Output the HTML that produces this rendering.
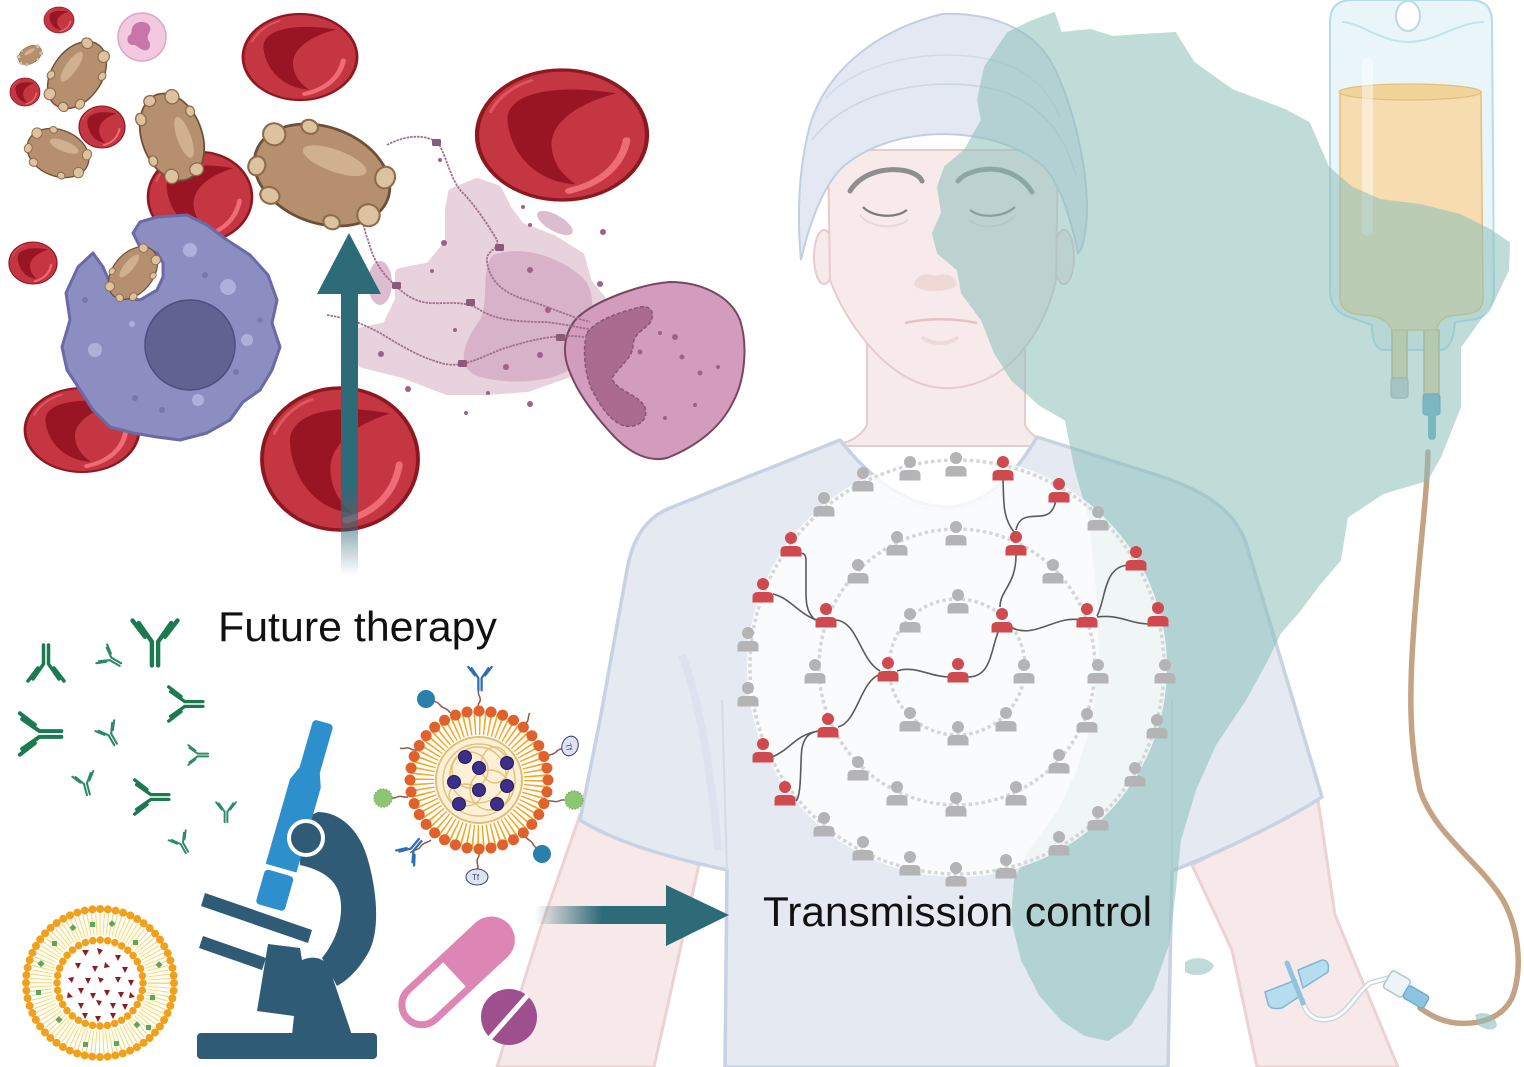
<!DOCTYPE html>
<html><head><meta charset="utf-8"><style>
html,body{margin:0;padding:0;background:#fff;}
svg{display:block;}
</style></head><body>
<svg width="1524" height="1067" viewBox="0 0 1524 1067" xmlns="http://www.w3.org/2000/svg" xmlns:xlink="http://www.w3.org/1999/xlink">
<defs>
 <g id="p"><circle cx="0" cy="0" r="6"/><path d="M-10.5,18.5 L-10.5,13 Q-10.5,8 -5,8 L5,8 Q10.5,8 10.5,13 L10.5,18.5 Z"/></g>
 <g id="rbc">
  <ellipse rx="50" ry="50" fill="#c43642" stroke="#8d1820" stroke-width="2.5"/>
  <path d="M-32,-10 C-34,-32 -5,-40 32,-32 C8,-24 -8,-8 -6,10 C-5,24 2,32 8,38 C-16,36 -30,14 -32,-10Z" fill="#9a1523"/>
  <path d="M38,4 C35,24 22,38 4,43" fill="none" stroke="#ef6b76" stroke-width="4.5" stroke-linecap="round"/>
  <path d="M-42,-18 C-37,-30 -28,-38 -18,-42" fill="none" stroke="#e05560" stroke-width="2" stroke-linecap="round"/>
 </g>
 <g id="par">
  <ellipse rx="50" ry="35" fill="#b58f6e" stroke="#6d4f37" stroke-width="2"/>
  <ellipse cx="5" cy="-13" rx="24" ry="8" fill="#d0b08f"/>
  <g fill="#dcc29e" stroke="#8d6c4c" stroke-width="1.5">
   <ellipse cx="-42" cy="-16" rx="8" ry="8"/><ellipse cx="-46" cy="10" rx="6" ry="7"/><ellipse cx="-30" cy="27" rx="7" ry="6"/>
   <ellipse cx="43" cy="-14" rx="7" ry="8"/><ellipse cx="41" cy="16" rx="8" ry="8"/><ellipse cx="18" cy="30" rx="6" ry="5"/><ellipse cx="-20" cy="-30" rx="6" ry="5"/>
  </g>
 </g>
 <g id="ab" fill="none" stroke-linecap="round">
  <path d="M-2.5,22 L-2.5,3 L-13,-12 M2.5,22 L2.5,3 L13,-12" stroke-width="3.5"/>
  <path d="M-8,-1 L-18,-14 M8,-1 L18,-14" stroke-width="3.5"/>
 </g>
 <linearGradient id="gup" x1="0" y1="290" x2="0" y2="575" gradientUnits="userSpaceOnUse">
  <stop offset="0" stop-color="#2e6b78"/><stop offset="0.7" stop-color="#2e6b78"/><stop offset="1" stop-color="#2e6b78" stop-opacity="0"/>
 </linearGradient>
 <linearGradient id="grt" x1="535" y1="0" x2="668" y2="0" gradientUnits="userSpaceOnUse">
  <stop offset="0" stop-color="#2e6b78" stop-opacity="0"/><stop offset="0.5" stop-color="#2e6b78"/><stop offset="1" stop-color="#2e6b78"/>
 </linearGradient>
</defs>
<rect width="1524" height="1067" fill="#fff"/>

<!-- ===== PERSON ===== -->
<!-- arms -->
<path d="M580,815 L700,860 L654,1067 L497,1067 L540,930 Z" fill="#f7e9e9" stroke="#ecd2d2" stroke-width="3"/>
<path d="M1192,865 L1318,800 L1335,915 L1398,1067 L1257,1067 L1232,950 Z" fill="#f7e9e9" stroke="#ecd2d2" stroke-width="3"/>
<!-- neck -->
<path d="M867,330 L867,425 C860,438 848,442 835,446 L1052,446 C1038,440 1028,432 1025,425 L1025,330 Z" fill="#f7eaea" stroke="#e6cccc" stroke-width="2"/>
<!-- ears -->
<ellipse cx="824" cy="257" rx="10" ry="27" fill="#f7eaea" stroke="#e6cccc" stroke-width="2"/>
<ellipse cx="1064" cy="257" rx="10" ry="27" fill="#f7eaea" stroke="#e6cccc" stroke-width="2"/>
<!-- face -->
<path d="M828,150 L830,280 C845,320 880,370 922,384 C940,390 960,390 982,381 C1015,368 1045,330 1056,280 L1058,150 Z" fill="#f8eaea" stroke="#e6cccc" stroke-width="2"/>
<!-- face features -->
<path d="M850,191 C860,175 880,168 900,170 C912,171 920,176 922,181" fill="none" stroke="#8e8e8e" stroke-width="5" stroke-linecap="round"/>
<path d="M958,181 C965,172 985,167 1000,170 C1015,173 1026,182 1032,192" fill="none" stroke="#8a8a8a" stroke-width="5" stroke-linecap="round"/>
<path d="M863,207 C872,217 895,219 907,210" fill="none" stroke="#7b7b7b" stroke-width="2.2"/>
<path d="M970,210 C982,219 1004,217 1015,207" fill="none" stroke="#7b7b7b" stroke-width="2.2"/>
<path d="M860,215 C870,228 895,230 908,220" fill="none" stroke="#ead6d6" stroke-width="2"/>
<path d="M969,220 C982,230 1004,228 1016,215" fill="none" stroke="#ead6d6" stroke-width="2"/>
<path d="M914,285 C916,275 925,272 935,276 C945,272 955,275 957,285 C950,293 920,293 914,285 Z" fill="#efd8d8"/>
<path d="M905,323 C925,318 955,318 977,323" fill="none" stroke="#e2c3c3" stroke-width="2.5"/>
<path d="M922,337 C930,345 950,345 958,337" fill="none" stroke="#eed8d8" stroke-width="4"/>
<!-- cap -->
<path d="M801,260 C797,220 798,170 810,125 C825,75 870,32 942,14 C990,12 1030,28 1050,60 C1072,100 1086,160 1087,205 C1087,230 1083,250 1078,253 C1070,215 1060,185 1045,168 C1020,145 985,135 945,134 C905,134 870,145 845,165 C825,182 810,220 801,260 Z" fill="#e3e8f2" stroke="#c2cfe0" stroke-width="2"/>
<path d="M812,140 C845,95 920,75 990,88 C1040,100 1065,135 1076,175" fill="none" stroke="#c9d5e5" stroke-width="1.5"/>
<path d="M826,98 C860,60 940,45 1000,62 C1030,72 1050,92 1060,118" fill="none" stroke="#d0dbea" stroke-width="1.5"/>
<!-- shirt -->
<path d="M840,440 C870,478 905,505 945,507 C985,507 1015,475 1037,437 L1160,476 C1200,490 1230,505 1245,540 L1322,797 C1290,818 1230,848 1172,871 L1168,1067 L725,1067 L727,870 C680,860 620,845 580,820 L600,720 L627,570 C632,540 645,518 670,508 Z" fill="#e5e9f2" stroke="#c7d2e3" stroke-width="3.5" stroke-linejoin="round"/>
<path d="M727,870 L722,700" fill="none" stroke="#d3dbe8" stroke-width="2"/>
<path d="M1172,871 L1172,700" fill="none" stroke="#d3dbe8" stroke-width="2"/>
<path d="M682,655 C700,700 712,780 718,850" fill="none" stroke="#dde3ee" stroke-width="8"/>
<path d="M862,478 C890,500 920,510 945,510 C975,510 1000,495 1020,470" fill="none" stroke="#d8dfea" stroke-width="2"/>

<!-- ===== IV BAG ===== -->
<path d="M1330,22 Q1330,0 1352,0 L1470,0 Q1492,0 1492,22 L1494,290 Q1494,318 1470,320 L1455,322 Q1453,350 1440,350 L1385,350 Q1372,350 1372,325 L1352,318 Q1330,312 1330,290 Z" fill="#eaf5f9" stroke="#b7dbe8" stroke-width="2"/>
<ellipse cx="1408" cy="16" rx="12" ry="15" fill="#fff" stroke="#b7dbe8" stroke-width="2"/>
<path d="M1342,22 C1360,22 1380,42 1408,42 C1436,42 1458,22 1484,22" fill="none" stroke="#c5e2ec" stroke-width="2"/>
<rect x="1392" y="330" width="15" height="48" fill="#e6d6a2" stroke="#c6ae76" stroke-width="1.5"/>
<rect x="1391" y="378" width="17" height="20" rx="3" fill="#c5cacc" stroke="#a8aeb2" stroke-width="1.2"/>
<rect x="1424" y="330" width="15" height="64" fill="#e6d6a2" stroke="#c6ae76" stroke-width="1.5"/>
<rect x="1423" y="394" width="17" height="21" rx="3" fill="#67aecb" stroke="#4c94b2" stroke-width="1"/>
<rect x="1428" y="413" width="8" height="27" rx="4" fill="#67aecb"/>
<path d="M1340,92 L1481,92 L1483,300 Q1482,312 1468,314 L1450,316 Q1440,318 1436,330 L1392,330 Q1386,318 1372,316 L1355,314 Q1340,310 1340,298 Z" fill="#f6dcae" stroke="#dfc07f" stroke-width="1.5"/>
<ellipse cx="1410" cy="92" rx="71" ry="8" fill="#f1d49a" stroke="#dfc07f" stroke-width="1.2"/>
<rect x="1362" y="58" width="11" height="178" rx="5.5" fill="#fff" opacity="0.45"/>
<!-- drip tube -->
<path d="M1428,452 C1427,500 1418,560 1413,640 C1409,700 1410,745 1420,790 C1435,835 1480,862 1503,900 C1522,935 1521,975 1512,998 C1502,1018 1480,1025 1456,1023 C1440,1021 1430,1015 1420,1008" fill="none" stroke="#c4a385" stroke-width="5.5" stroke-linecap="round"/>

<!-- ===== MAP ===== -->
<path d="M1054,13 L1061,33 L1090,30 L1113,37 L1140,35 L1175,33 L1194,63 L1232,90 L1285,110 L1309,123 L1328,167 L1351,187 L1380,200 L1420,205 L1460,215 L1490,230 L1509,243 L1508,270 L1494,300 L1460,347 L1460,407 L1440,457 L1427,480 L1383,493 L1347,517 L1340,560 L1317,587 L1300,610 L1280,633 L1267,660 L1245,700 L1215,745 L1195,790 L1180,840 L1175,890 L1168,945 L1152,990 L1130,1025 L1108,1040 L1085,1035 L1062,1020 L1040,995 L1022,960 L1012,920 L1015,880 L1030,850 L1058,812 L1078,770 L1093,720 L1100,660 L1098,600 L1090,520 L1075,467 L1066,420 L1040,405 L1012,380 L995,353 L982,320 L962,293 L958,270 L938,253 L933,233 L942,213 L938,187 L945,167 L965,150 L982,120 L978,100 L985,67 L1008,33 L1030,22 Z" fill="#8cc0bb" opacity="0.55" stroke="#8cc0bb" stroke-width="2" stroke-linejoin="round"/>
<path d="M1185,962 C1195,955 1210,958 1214,966 C1210,975 1195,978 1185,972 Z" fill="#8cc0bb" opacity="0.55"/>
<path d="M1475,1015 C1485,1010 1495,1015 1497,1025 C1495,1032 1485,1030 1478,1025 Z" fill="#8cc0bb" opacity="0.6"/>

<!-- catheter -->
<path d="M1302,1000 C1306,1015 1315,1022 1330,1019 C1348,1015 1356,993 1370,983 L1388,978" fill="none" stroke="#c9d4dc" stroke-width="5.5" stroke-linecap="round"/>
<path d="M1302,1000 C1306,1015 1315,1022 1330,1019 C1348,1015 1356,993 1370,983 L1388,978" fill="none" stroke="#fbfdff" stroke-width="2.8" stroke-linecap="round"/>
<rect x="1386" y="974" width="22" height="20" rx="3" transform="rotate(30 1397 984)" fill="#edf3f6" stroke="#b3c4cf" stroke-width="1.5"/>
<rect x="1404" y="990" width="24" height="14" rx="3" transform="rotate(30 1416 997)" fill="#8cc5df" stroke="#6aa8c6" stroke-width="1.2"/>
<path d="M1265,992 L1296,980 L1300,996 L1282,1008 Q1270,1010 1268,1004 Z" fill="#b6dcef" stroke="#7eb7d6" stroke-width="1.5"/>
<path d="M1298,970 L1322,960 Q1330,960 1328,972 L1303,988 Z" fill="#b6dcef" stroke="#7eb7d6" stroke-width="1.5"/>
<path d="M1287,963 L1303,1003" stroke="#8fc3de" stroke-width="5" stroke-linecap="round"/>

<!-- ===== NETWORK ===== -->
<circle cx="957" cy="667" r="210" fill="#fff" opacity="0.8"/>
<g fill="none" stroke="#d4d6d9" stroke-width="3.5" stroke-dasharray="3.5 3">
 <circle cx="957" cy="667" r="207"/>
 <circle cx="957" cy="667" r="138"/>
 <circle cx="957" cy="667" r="68"/>
</g>
<g fill="none" stroke="#5a5a5a" stroke-width="1.6">
 <path d="M1003,480 C1004,500 1002,517 1014,532"/>
 <path d="M1056,500 C1052,520 1040,515 1028,517 C1020,518 1017,525 1016,530"/>
 <path d="M1016,555 C1016,585 1000,590 1000,607"/>
 <path d="M1000,627 C990,650 992,677 968,677"/>
 <path d="M1010,627 C1035,640 1055,615 1080,620"/>
 <path d="M1097,617 C1120,614 1130,624 1150,624"/>
 <path d="M1097,616 C1106,600 1103,567 1128,565"/>
 <path d="M950,677 C930,677 915,665 897,671"/>
 <path d="M880,671 C860,660 858,622 836,620"/>
 <path d="M815,620 C805,610 806,600 806,585 L806,560 C806,553 802,553 798,553"/>
 <path d="M773,594 C790,598 800,615 817,620"/>
 <path d="M881,674 C860,680 858,722 838,727"/>
 <path d="M772,757 C790,750 795,735 818,731"/>
 <path d="M796,801 C802,795 800,760 802,748 C805,735 810,733 818,731"/>
</g>
<g fill="#b4b4b6">
 <use xlink:href="#p" x="958" y="595"/><use xlink:href="#p" x="910" y="614"/><use xlink:href="#p" x="1024" y="665"/>
 <use xlink:href="#p" x="1006" y="713"/><use xlink:href="#p" x="958" y="727"/><use xlink:href="#p" x="910" y="713"/>
 <use xlink:href="#p" x="956" y="527"/><use xlink:href="#p" x="897" y="537"/><use xlink:href="#p" x="858" y="565"/>
 <use xlink:href="#p" x="1053" y="565"/><use xlink:href="#p" x="815" y="665"/><use xlink:href="#p" x="1098" y="665"/>
 <use xlink:href="#p" x="1087" y="714"/><use xlink:href="#p" x="1059" y="755"/><use xlink:href="#p" x="1016" y="787"/>
 <use xlink:href="#p" x="956" y="798"/><use xlink:href="#p" x="897" y="787"/><use xlink:href="#p" x="858" y="762"/>
 <use xlink:href="#p" x="910" y="462"/><use xlink:href="#p" x="956" y="458"/><use xlink:href="#p" x="863" y="473"/>
 <use xlink:href="#p" x="824" y="498"/><use xlink:href="#p" x="1098" y="512"/><use xlink:href="#p" x="748" y="633"/>
 <use xlink:href="#p" x="748" y="688"/><use xlink:href="#p" x="1165" y="665"/><use xlink:href="#p" x="1157" y="720"/>
 <use xlink:href="#p" x="1135" y="768"/><use xlink:href="#p" x="1098" y="812"/><use xlink:href="#p" x="1059" y="837"/>
 <use xlink:href="#p" x="1006" y="860"/><use xlink:href="#p" x="956" y="868"/><use xlink:href="#p" x="910" y="857"/>
 <use xlink:href="#p" x="863" y="842"/><use xlink:href="#p" x="824" y="818"/>
</g>
<g fill="#cf4a4e">
 <use xlink:href="#p" x="1003" y="462"/><use xlink:href="#p" x="1059" y="484"/><use xlink:href="#p" x="1016" y="537"/>
 <use xlink:href="#p" x="791" y="538"/><use xlink:href="#p" x="1136" y="552"/><use xlink:href="#p" x="763" y="584"/>
 <use xlink:href="#p" x="826" y="609"/><use xlink:href="#p" x="1002" y="614"/><use xlink:href="#p" x="1087" y="609"/>
 <use xlink:href="#p" x="1158" y="608"/><use xlink:href="#p" x="888" y="663"/><use xlink:href="#p" x="958" y="664"/>
 <use xlink:href="#p" x="828" y="719"/><use xlink:href="#p" x="763" y="744"/><use xlink:href="#p" x="785" y="787"/>
</g>

<!-- ===== TOP-LEFT CELLS ===== -->
<use xlink:href="#rbc" transform="translate(59,20) scale(0.3,0.26)"/>
<use xlink:href="#rbc" transform="translate(25,92) scale(0.3,0.28)"/>
<use xlink:href="#rbc" transform="translate(102,127) scale(0.46,0.42)"/>
<use xlink:href="#rbc" transform="translate(300,57) scale(1.14,0.86)"/>
<use xlink:href="#rbc" transform="translate(200,197) scale(1.04,0.9)"/>
<use xlink:href="#rbc" transform="translate(33,263) scale(0.48,0.42)"/>
<use xlink:href="#rbc" transform="translate(82,430) scale(1.14,0.84)"/>
<use xlink:href="#rbc" transform="translate(562,135) scale(1.7,1.3)"/>
<use xlink:href="#rbc" transform="translate(340,459) scale(1.56,1.42)"/>
<!-- small neutrophil -->
<circle cx="142" cy="37" r="24" fill="#f3c9e0" stroke="#dba6c5" stroke-width="1.5"/>
<path d="M132,28 C135,20 148,20 150,27 C152,32 146,34 148,40 C152,44 150,52 143,50 C138,48 136,44 132,45 C126,44 126,36 131,34 Z" fill="#c876aa"/>
<!-- parasites -->
<use xlink:href="#par" transform="translate(30,55) rotate(-30) scale(0.25,0.24)"/>
<use xlink:href="#par" transform="translate(77,75) rotate(-55) scale(0.74,0.71)"/>
<use xlink:href="#par" transform="translate(58,153) rotate(22) scale(0.64,0.66)"/>
<use xlink:href="#par" transform="translate(172,137) rotate(70) scale(0.9,0.86)"/>
<!-- macrophage -->
<path d="M133,233 L140,222 L157,217 L187,215 L207,225 L227,240 L250,255 L268,275 L277,300 L272,323 L280,347 L272,370 L260,390 L243,402 L230,420 L207,433 L180,440 L157,437 L133,433 L110,427 L93,410 L80,390 L67,370 L62,347 L70,320 L66,293 L78,267 L93,253 L103,267 L110,283 L120,297 L140,300 L157,290 L163,277 L163,263 L157,253 L140,247 Z" fill="#8c8dc1" stroke="#6b69a6" stroke-width="3" stroke-linejoin="round"/>
<circle cx="190" cy="345" r="45" fill="#626292" stroke="#4e4e7f" stroke-width="1.5"/>
<g fill="#aeb0dc"><circle cx="190" cy="250" r="7"/><circle cx="228" cy="287" r="8"/><circle cx="247" cy="340" r="6"/><circle cx="95" cy="350" r="7"/><circle cx="198" cy="400" r="6"/><circle cx="132" cy="324" r="3"/></g>
<g fill="#7577ad"><circle cx="205" cy="275" r="3"/><circle cx="85" cy="300" r="3"/><circle cx="135" cy="398" r="3"/><circle cx="236" cy="372" r="3"/><circle cx="162" cy="410" r="3"/><circle cx="260" cy="320" r="2.5"/></g>
<use xlink:href="#par" transform="translate(133,273) rotate(-50) scale(0.6,0.57)"/>

<!-- NET -->
<path d="M453,193 L477,183 L497,190 L507,210 L520,227 L553,240 L580,257 L587,283 L607,307 L573,333 L567,373 L527,387 L487,390 L447,390 L403,373 L363,363 L358,333 L387,327 L400,300 L400,273 L430,267 L450,243 L450,210 Z" fill="#e8d2de" stroke="#e8d2de" stroke-width="10" stroke-linejoin="round"/>
<ellipse cx="380" cy="283" rx="12" ry="22" fill="#dcbdcf"/>
<path d="M493,255 C520,245 560,255 585,280 C600,300 590,340 575,365 C555,385 500,385 475,375 C455,365 465,340 480,320 C490,300 480,270 493,255 Z" fill="#d8b2c8"/>
<ellipse cx="555" cy="223" rx="20" ry="8" transform="rotate(30 555 223)" fill="#dcbccf"/>
<!-- neutrophil big -->
<path d="M583,313 C600,300 640,284 670,282 C700,282 730,295 740,320 C748,345 745,380 733,402 C722,425 700,445 667,458 C650,462 630,455 610,432 C590,410 572,385 566,360 C562,340 570,322 583,313 Z" fill="#d39cbc" stroke="#77475f" stroke-width="2"/>
<path d="M587,333 C595,322 610,315 640,307 C650,305 656,312 650,323 C644,330 634,333 633,345 C633,358 620,365 612,378 C615,390 633,392 644,405 C650,418 640,428 625,426 C610,422 600,405 592,390 C585,375 582,350 587,333 Z" fill="#a96c8e" stroke="#8a5474" stroke-width="1.5" stroke-dasharray="4 2"/>
<g fill="#a0608a"><circle cx="640" cy="352" r="2.5"/><circle cx="660" cy="333" r="2"/><circle cx="675" cy="337" r="3"/><circle cx="682" cy="357" r="2.5"/><circle cx="700" cy="373" r="2.5"/><circle cx="665" cy="418" r="2"/><circle cx="695" cy="405" r="2"/><circle cx="718" cy="367" r="2"/></g>
<!-- DNA strands -->
<g fill="none" stroke="#a1708f" stroke-width="1.8" stroke-dasharray="2.5 1">
 <path d="M387,145 C400,138 420,132 437,142 C445,150 450,180 462,192 C475,205 488,225 497,240 C500,250 485,250 487,262 C490,280 500,290 520,298 C545,305 565,315 590,322"/>
 <path d="M360,190 C362,210 362,225 368,240 C372,255 378,270 395,285 C405,295 415,302 430,303 C450,304 465,300 480,310 C495,320 520,322 545,322 C565,324 580,328 595,330"/>
 <path d="M327,315 C345,318 360,322 380,333 C400,345 420,358 445,364 C465,368 485,355 505,348 C525,342 545,336 570,336 C580,336 590,338 600,340"/>
</g>
<g fill="#8a5a78"><rect x="432" y="139" width="9" height="7" rx="1.5"/><rect x="495" y="244" width="9" height="7" rx="1.5"/><rect x="392" y="282" width="9" height="7" rx="1.5"/><rect x="466" y="299" width="9" height="7" rx="1.5"/><rect x="556" y="334" width="9" height="7" rx="1.5"/><rect x="458" y="360" width="9" height="7" rx="1.5"/></g>
<g fill="#a0608a"><circle cx="440" cy="160" r="2"/><circle cx="444" cy="243" r="3"/><circle cx="432" cy="271" r="2"/><circle cx="530" cy="225" r="2"/><circle cx="523" cy="207" r="2"/><circle cx="603" cy="232" r="3"/><circle cx="600" cy="284" r="3"/><circle cx="530" cy="270" r="3"/><circle cx="548" cy="310" r="3"/><circle cx="381" cy="354" r="3"/><circle cx="408" cy="389" r="3"/><circle cx="488" cy="393" r="2"/><circle cx="530" cy="404" r="3"/><circle cx="466" cy="413" r="2"/><circle cx="506" cy="367" r="3"/><circle cx="540" cy="355" r="3"/><circle cx="455" cy="330" r="2"/></g>
<!-- big parasite -->
<use xlink:href="#par" transform="translate(322,175) rotate(20) scale(1.4,1.37)"/>

<!-- up arrow -->
<rect x="341" y="290" width="17" height="285" fill="url(#gup)"/>
<polygon points="349,233 381,294 317,294" fill="#2e6b78"/>

<!-- ===== BOTTOM-LEFT ===== -->
<!-- antibodies -->
<g stroke="#1b7a50">
 <use xlink:href="#ab" transform="translate(155,638) scale(1.25)"/>
 <use xlink:href="#ab" transform="translate(46,667) rotate(180) scale(1)"/>
 <use xlink:href="#ab" transform="translate(36,734) rotate(-90) scale(1.15)"/>
 <use xlink:href="#ab" transform="translate(182,704) rotate(-90) scale(0.95)"/>
 <use xlink:href="#ab" transform="translate(148,797) rotate(-90) scale(0.95)"/>
</g>
<g stroke="#2e8a66">
 <use xlink:href="#ab" transform="translate(109,658) rotate(-60) scale(0.6)"/>
 <use xlink:href="#ab" transform="translate(109,733) rotate(-30) scale(0.6)"/>
 <use xlink:href="#ab" transform="translate(196,755) rotate(-90) scale(0.55)"/>
 <use xlink:href="#ab" transform="translate(85,782) rotate(-15) scale(0.6)"/>
 <use xlink:href="#ab" transform="translate(226,810) scale(0.55)"/>
 <use xlink:href="#ab" transform="translate(181,842) rotate(-30) scale(0.55)"/>
</g>

<!-- nanoparticle -->
<g fill="none" stroke="#8e5a4e" stroke-width="1.5">
 <path d="M479,690 C476,694 483,698 479,703 C476,707 482,710 479,712"/>
 <path d="M427,699 C432,702 436,700 440,705 C443,709 448,708 450,713"/>
 <path d="M570,746 C565,750 560,747 556,752 C552,756 548,754 545,757"/>
 <path d="M383,798 C388,796 392,800 397,797 C401,795 404,798 408,797"/>
 <path d="M573,800 C568,802 564,798 559,801 C555,803 552,800 548,801"/>
 <path d="M542,853 C540,848 535,849 533,844 C531,840 527,840 525,836"/>
 <path d="M477,870 C480,866 475,862 478,858 C481,854 477,852 479,849"/>
 <path d="M410,853 C414,849 418,851 421,846 C424,842 428,843 431,840"/>
 <path d="M400,748 C404,750 406,746 411,749 C414,751 416,749 418,751"/>
 <path d="M530,713 C527,716 530,720 526,723 C523,726 524,729 522,731"/>
</g>
<circle cx="479" cy="780" r="57" fill="none" stroke="#f6a622" stroke-width="24" stroke-dasharray="1.6 3.37"/>
<circle cx="479" cy="780" r="43" fill="#fcf1d6" stroke="#e4bd72" stroke-width="2"/>
<g fill="none" stroke="#e6c07a" stroke-width="1.4">
 <circle cx="470" cy="770" r="18"/><circle cx="490" cy="790" r="20"/><circle cx="478" cy="775" r="28"/><ellipse cx="465" cy="795" rx="16" ry="11"/><ellipse cx="495" cy="765" rx="14" ry="18"/><circle cx="479" cy="780" r="36"/>
</g>
<circle cx="479" cy="780" r="69" fill="none" stroke="#e0612c" stroke-width="11" stroke-linecap="round" stroke-dasharray="0 12.04"/>
<g fill="#3b2f88" stroke="#241a5e" stroke-width="1"><circle cx="465" cy="757" r="6.5"/><circle cx="479" cy="768" r="6.5"/><circle cx="507" cy="763" r="6.5"/><circle cx="454" cy="782" r="6.5"/><circle cx="479" cy="790" r="6.5"/><circle cx="507" cy="786" r="6.5"/><circle cx="459" cy="804" r="6.5"/><circle cx="497" cy="804" r="6.5"/></g>
<g stroke="#2f6db5"><use xlink:href="#ab" transform="translate(480,676) scale(0.65)"/><use xlink:href="#ab" transform="translate(411,851) rotate(-140) scale(0.65)"/></g>
<circle cx="426" cy="699" r="9" fill="#2a80ad"/>
<circle cx="542" cy="854" r="9" fill="#2a80ad"/>
<circle cx="383" cy="798" r="9" fill="#8cc672" stroke="#7ab25f" stroke-width="1.5" stroke-dasharray="1.5 1.5"/>
<circle cx="574" cy="800" r="9" fill="#8cc672" stroke="#7ab25f" stroke-width="1.5" stroke-dasharray="1.5 1.5"/>
<ellipse cx="570" cy="746" rx="8" ry="10" transform="rotate(20 570 746)" fill="#dde3f2" stroke="#34416e" stroke-width="1"/>
<text x="567" y="750" font-family="Liberation Sans, sans-serif" font-size="8" fill="#34416e" transform="rotate(80 570 746)">Tf</text>
<ellipse cx="477" cy="877" rx="11" ry="8" fill="#dde3f2" stroke="#34416e" stroke-width="1"/>
<text x="472" y="880" font-family="Liberation Sans, sans-serif" font-size="8" fill="#34416e">Tf</text>

<!-- liposome -->
<circle cx="100" cy="983" r="59" fill="#fffdf2" stroke="#f7d877" stroke-width="22" stroke-dasharray="1 2.7"/>
<circle cx="100" cy="983" r="38" fill="#fff"/>
<circle cx="100" cy="983" r="74" fill="none" stroke="#f1a01c" stroke-width="8" stroke-linecap="round" stroke-dasharray="0 7.75"/>
<circle cx="100" cy="983" r="43" fill="none" stroke="#f1a01c" stroke-width="7.5" stroke-linecap="round" stroke-dasharray="0 7.5"/>
<g fill="#5aa85a">
 <rect x="71" y="925" width="5" height="5" transform="rotate(45 73 927)"/><rect x="90" y="922" width="5" height="5"/><rect x="110" y="921" width="5" height="5" transform="rotate(45 112 923)"/>
 <rect x="133" y="940" width="5" height="5"/><rect x="157" y="962" width="5" height="5" transform="rotate(45 159 964)"/><rect x="150" y="995" width="5" height="5"/>
 <rect x="135" y="1022" width="5" height="5" transform="rotate(45 137 1024)"/><rect x="146" y="1025" width="5" height="5"/><rect x="114" y="1041" width="5" height="5"/>
 <rect x="83" y="1042" width="5" height="5"/><rect x="57" y="1017" width="5" height="5" transform="rotate(45 59 1019)"/><rect x="36" y="990" width="5" height="5"/>
 <rect x="39" y="961" width="5" height="5" transform="rotate(45 41 963)"/><rect x="52" y="941" width="5" height="5"/>
</g>
<g fill="#8b1d22">
 <path d="M82,950 l7,0 l-3.5,6z"/><path d="M97,948 l6,2 l-4,5z"/><path d="M115,955 l6,0 l-3,6z"/><path d="M75,963 l6,0 l-3,6z"/><path d="M92,966 l6,0 l-3,6z"/><path d="M105,962 l5,5 l-6,1z"/>
 <path d="M122,967 l6,0 l-3,6z"/><path d="M68,978 l6,-1 l-2,6z"/><path d="M85,978 l6,0 l-3,6z"/><path d="M98,977 l6,2 l-4,4z"/><path d="M115,977 l6,0 l-3,6z"/><path d="M128,980 l6,0 l-3,6z"/>
 <path d="M68,992 l5,5 l-6,1z"/><path d="M78,988 l6,0 l-3,6z"/><path d="M90,993 l6,0 l-3,6z"/><path d="M104,990 l6,0 l-3,6z"/><path d="M118,992 l6,0 l-3,6z"/><path d="M130,992 l5,5 l-6,1z"/>
 <path d="M78,1003 l6,0 l-3,6z"/><path d="M96,1000 l6,1 l-3,5z"/><path d="M110,1003 l6,0 l-3,6z"/><path d="M122,1004 l6,0 l-3,6z"/><path d="M82,1013 l6,0 l-3,6z"/><path d="M95,1016 l6,0 l-3,6z"/><path d="M110,1013 l6,0 l-3,6z"/>
</g>

<!-- microscope -->
<g fill="#305b77">
 <rect x="197" y="1033" width="180" height="26" rx="4"/>
 <path d="M268,944 L300,948 L302,960 C315,955 325,958 330,970 L352,1035 L292,1035 L294,1016 L257,1011 Z"/>
 <path d="M318,812 C340,812 360,830 368,860 C378,895 380,935 367,955 C358,970 348,980 337,986 L322,958 C333,945 342,925 341,905 C340,885 330,872 300,865 L300,820 Z"/>
 <polygon points="205,893 312,930 308,943 201,906"/>
 <polygon points="203,936 266,958 262,970 199,948"/>
</g>
<g transform="translate(323,722) rotate(16)" fill="#2d8fcb">
 <rect x="-10" y="0" width="21" height="62" rx="4"/>
 <path d="M-10,50 L-16,64 L-16,152 L16,152 L16,64 L11,50 Z"/>
 <rect x="-15" y="157" width="30" height="36" rx="4"/>
</g>
<circle cx="306" cy="838" r="17" fill="#305b77" stroke="#fff" stroke-width="4"/>

<!-- pills -->
<g transform="translate(457,972) rotate(-43)">
 <path d="M0,-20 L-48,-20 A20,20 0 0 0 -48,20 L0,20 Z" fill="#fff" stroke="#dd86b6" stroke-width="7"/>
 <path d="M0,-23.5 L47,-23.5 A23.5,23.5 0 0 1 47,23.5 L0,23.5 Z" fill="#dd86b6"/>
</g>
<circle cx="509" cy="1017" r="28" fill="#9d4f8e"/>
<line x1="528" y1="995" x2="490" y2="1038" stroke="#fff" stroke-width="5"/>

<!-- right arrow -->
<rect x="535" y="906" width="133" height="18" fill="url(#grt)"/>
<polygon points="666,885 729,915 666,946" fill="#2e6b78"/>

<!-- texts -->
<text x="218" y="641" font-family="Liberation Sans, sans-serif" font-size="42" fill="#111" textLength="279" lengthAdjust="spacingAndGlyphs">Future therapy</text>
<text x="763" y="926" font-family="Liberation Sans, sans-serif" font-size="42" fill="#111" textLength="389" lengthAdjust="spacingAndGlyphs">Transmission control</text>
</svg>
</body></html>
